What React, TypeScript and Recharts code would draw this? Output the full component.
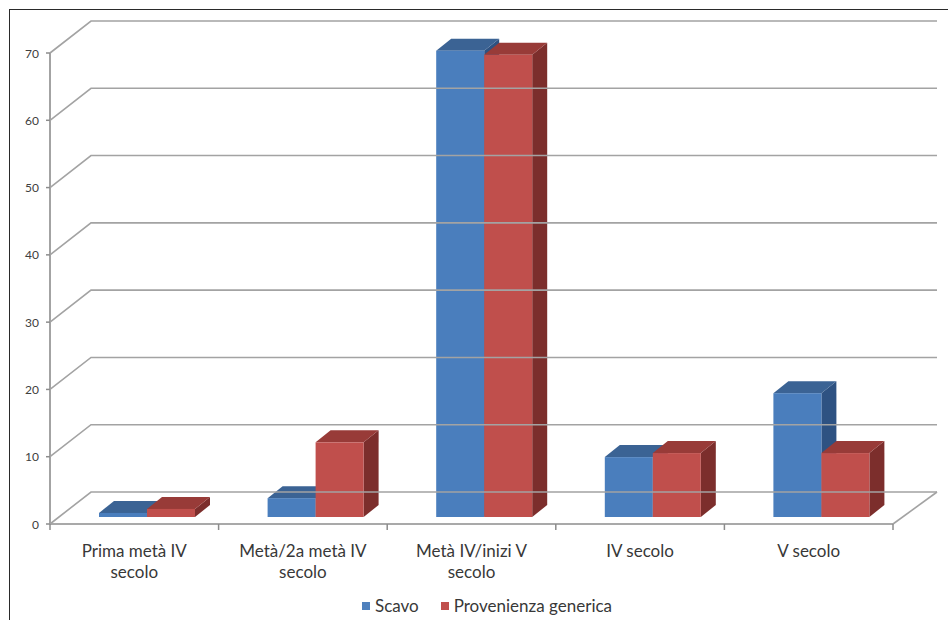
import { BarChart, Bar, XAxis, YAxis, Legend } from "recharts";

const categories = [
  "Prima metà IV\nsecolo",
  "Metà/2a metà IV\nsecolo",
  "Metà IV/inizi V\nsecolo",
  "IV secolo",
  "V secolo",
];
const scavo = [0.6, 2.8, 69.3, 8.9, 18.4];
const provenienza = [1.2, 11.1, 68.7, 9.5, 9.5];
const yTicks = [0, 10, 20, 30, 40, 50, 60, 70];

const data = categories.map((cat, i) => ({ cat, scavo: scavo[i], prov: provenienza[i] }));

const W = 948;
const H = 620;
const X_HEIGHT = 30;
const MARGIN = { top: 53, right: 55, bottom: 96 - X_HEIGHT, left: 0 };
const Y_WIDTH = 50;
const Y_TICK = 4;
const Y_MARGIN = 7;
// perspective offsets for the walls / floor and for the columns
const WALL_DX = 41;
const WALL_DY = -32;
const RIGHT_DX = 44;
const BAR_SHIFT_X = 13;
const BAR_SHIFT_Y = -7;
const BOX_DX = 15;
const BOX_DY = -12;

const GRID = "#a3a3a3";
const AXIS = "#8c8c8c";
const FONT = "Lato, 'Open Sans', sans-serif";

const BLUE = { front: "#4a7ebd", top: "#3b6394", side: "#2e5282", legend: "#4f81bd" };
const RED = { front: "#c04f4c", top: "#983b38", side: "#7c2e2c", legend: "#c0504d" };

const plotRight = W - MARGIN.right;

function Box3D(props: any) {
  const { x, y, width, height, colors } = props;
  if (width == null || height == null) return null;
  const fx = x + BAR_SHIFT_X;
  const fy = y + BAR_SHIFT_Y;
  const w = width;
  const h = height;
  const top = `${fx},${fy} ${fx + BOX_DX},${fy + BOX_DY} ${fx + w + BOX_DX},${fy + BOX_DY} ${fx + w},${fy}`;
  const side = `${fx + w},${fy} ${fx + w + BOX_DX},${fy + BOX_DY} ${fx + w + BOX_DX},${fy + h + BOX_DY} ${fx + w},${fy + h}`;
  return (
    <g>
      <polygon points={side} fill={colors.side} />
      <polygon points={top} fill={colors.top} />
      <rect x={fx} y={fy} width={w} height={h} fill={colors.front} />
    </g>
  );
}

function YTick(props: any) {
  const { x, y, payload } = props;
  const ax = x + Y_TICK + Y_MARGIN;
  return (
    <g>
      <path
        d={`M${ax},${y} L${ax + WALL_DX},${y + WALL_DY} L${plotRight + RIGHT_DX},${y + WALL_DY}`}
        stroke={GRID}
        strokeWidth={1.6}
        fill="none"
      />
      {payload.value === 0 && (
        <path
          d={`M${plotRight},${y} L${plotRight + RIGHT_DX},${y + WALL_DY}`}
          stroke={GRID}
          strokeWidth={1.6}
          fill="none"
        />
      )}
      <text x={x} y={y} textAnchor="end" dominantBaseline="central" fontSize={12} fill="#404040" fontFamily={FONT}>
        {payload.value}
      </text>
    </g>
  );
}

function XTick(props: any) {
  const { x, y, payload, index } = props;
  const half = payload.offset || (plotRight - Y_WIDTH) / categories.length / 2;
  const lines = String(payload.value).split("\n");
  return (
    <g>
      <line x1={x - half} y1={y} x2={x - half} y2={y + 6} stroke={AXIS} strokeWidth={1.5} />
      {index === categories.length - 1 && (
        <line x1={x + half} y1={y} x2={x + half} y2={y + 6} stroke={AXIS} strokeWidth={1.5} />
      )}
      {lines.map((l, i) => (
        <text key={i} x={x} y={y + 33 + i * 21} textAnchor="middle" fontSize={17} fill="#383838" fontFamily={FONT}>
          {l}
        </text>
      ))}
    </g>
  );
}

function LegendContent() {
  const items = [
    { name: "Scavo", color: BLUE.legend },
    { name: "Provenienza generica", color: RED.legend },
  ];
  return (
    <div style={{ display: "flex", alignItems: "center", fontFamily: FONT, fontSize: 17, color: "#383838" }}>
      {items.map((it) => (
        <div key={it.name} style={{ display: "flex", alignItems: "center", marginRight: 22 }}>
          <span style={{ width: 8, height: 8, background: it.color, marginRight: 5, display: "inline-block" }} />
          <span>{it.name}</span>
        </div>
      ))}
    </div>
  );
}

export default function App() {
  return (
    <div style={{ position: "absolute", left: 0, top: 0, width: W, height: H, overflow: "hidden", background: "#fff" }}>
      <div
        style={{
          position: "absolute",
          left: 9,
          top: 9,
          width: W + 20,
          height: H + 20,
          borderLeft: "1.5px solid #2a2a2a",
          borderTop: "1.5px solid #2a2a2a",
        }}
      />
      <div style={{ position: "absolute", left: 0, top: 0 }}>
        <BarChart width={W} height={H} data={data} margin={MARGIN} barGap={0} barSize={48}>
          <YAxis
            width={Y_WIDTH}
            domain={[0, 70]}
            ticks={yTicks}
            interval={0}
            tickSize={Y_TICK}
            tickMargin={Y_MARGIN}
            axisLine={{ stroke: AXIS, strokeWidth: 1.6 }}
            tickLine={{ stroke: AXIS, strokeWidth: 1.5 }}
            tick={<YTick />}
          />
          <XAxis
            dataKey="cat"
            height={X_HEIGHT}
            interval={0}
            tickSize={0}
            tickMargin={0}
            tickLine={false}
            axisLine={{ stroke: AXIS, strokeWidth: 1.6 }}
            tick={<XTick />}
          />
          <Bar dataKey="scavo" name="Scavo" fill={BLUE.front} isAnimationActive={false} shape={(p: any) => <Box3D {...p} colors={BLUE} />} />
          <Bar dataKey="prov" name="Provenienza generica" fill={RED.front} isAnimationActive={false} shape={(p: any) => <Box3D {...p} colors={RED} />} />
          <Legend
            layout="horizontal"
            verticalAlign="middle"
            align="center"
            content={<LegendContent />}
            wrapperStyle={{ position: "absolute", top: 595, left: 362, width: 400 }}
          />
        </BarChart>
      </div>
    </div>
  );
}
